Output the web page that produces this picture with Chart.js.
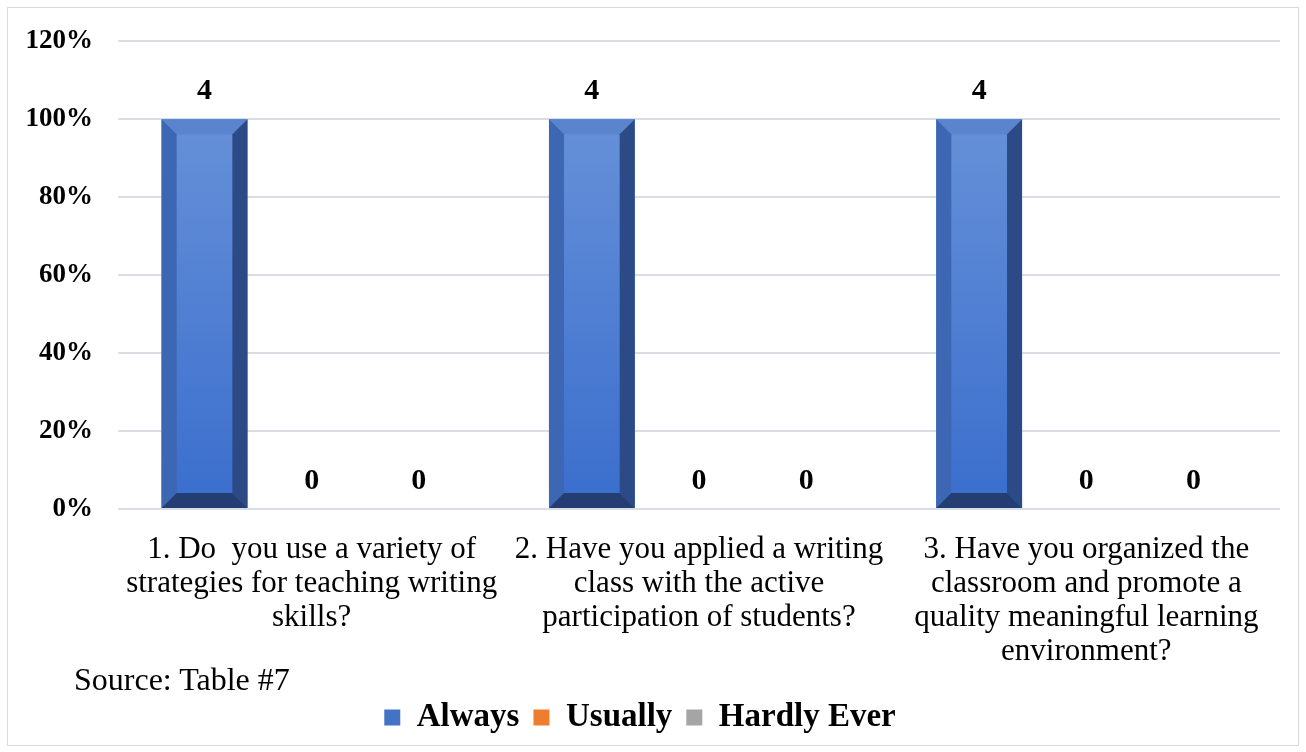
<!DOCTYPE html>
<html>
<head>
<meta charset="utf-8">
<script src="https://cdn.jsdelivr.net/npm/chart.js@4"></script>
<style>
  body { margin: 0; background: #fff; }
  #wrap { position: relative; width: 1306px; height: 752px; }
  #marco { position: absolute; left: 7px; top: 7px; width: 1290px; height: 737px; border: 1px solid #d9d9d9; }
  #fuente { position: absolute; left: 74px; top: 661px; font: 32px "Liberation Serif", serif; color: #000; }
</style>
</head>
<body>
<div id="wrap">
  <div id="marco"></div>
  <canvas id="myChart" width="1306" height="752"></canvas>
  <div id="fuente">Source: Table #7</div>
</div>
<script>
// categorias (una linea por elemento)
const preguntas = [
	["1. Do  you use a variety of", "strategies for teaching writing", "skills?"],
	["2. Have you applied a writing", "class with the active", "participation of students?"],
	["3. Have you organized the", "classroom and promote a", "quality meaningful learning", "environment?"]
];
const series = ["Always", "Usually", "Hardly Ever"];
// porcentajes
const always = [100, 100, 100];
const usually = [0, 0, 0];
const hardlyEver = [0, 0, 0];
// etiquetas (cantidad de respuestas)
const cantAlways = [4, 4, 4];
const cantUsually = [0, 0, 0];
const cantHardly = [0, 0, 0];
const yTicks = [0, 20, 40, 60, 80, 100, 120];

const fuenteSerif = "'Liberation Serif', 'Times New Roman', serif";

// dibuja el efecto biselado de las barras y las etiquetas de valores
const biselPlugin = {
	id: "bisel",
	afterDatasetsDraw(chart) {
		const ctx = chart.ctx;
		const meta = chart.getDatasetMeta(0);
		meta.data.forEach((bar) => {
			const x0 = bar.x - bar.width / 2, x1 = bar.x + bar.width / 2;
			const y0 = bar.y, y1 = bar.base;
			const b = 15;
			const grad = ctx.createLinearGradient(0, y0, 0, y1);
			grad.addColorStop(0, "#6690d8");
			grad.addColorStop(1, "#3a6ecd");
			ctx.save();
			ctx.fillStyle = grad;
			ctx.fillRect(x0, y0, x1 - x0, y1 - y0);
			// arriba
			ctx.fillStyle = "#5b84cf";
			ctx.beginPath();
			ctx.moveTo(x0, y0); ctx.lineTo(x1, y0); ctx.lineTo(x1 - b, y0 + b); ctx.lineTo(x0 + b, y0 + b); ctx.closePath(); ctx.fill();
			// izquierda
			ctx.fillStyle = "#3d66b3";
			ctx.beginPath();
			ctx.moveTo(x0, y0); ctx.lineTo(x0 + b, y0 + b); ctx.lineTo(x0 + b, y1 - b); ctx.lineTo(x0, y1); ctx.closePath(); ctx.fill();
			// derecha
			ctx.fillStyle = "#2c4a86";
			ctx.beginPath();
			ctx.moveTo(x1, y0); ctx.lineTo(x1, y1); ctx.lineTo(x1 - b, y1 - b); ctx.lineTo(x1 - b, y0 + b); ctx.closePath(); ctx.fill();
			// abajo
			ctx.fillStyle = "#243d72";
			ctx.beginPath();
			ctx.moveTo(x0, y1); ctx.lineTo(x1, y1); ctx.lineTo(x1 - b, y1 - b); ctx.lineTo(x0 + b, y1 - b); ctx.closePath(); ctx.fill();
			ctx.restore();
		});

		const cantidades = [cantAlways, cantUsually, cantHardly];
		ctx.save();
		ctx.font = "bold 30px " + fuenteSerif;
		ctx.fillStyle = "#000";
		ctx.textAlign = "center";
		ctx.textBaseline = "middle";
		chart.data.datasets.forEach((ds, i) => {
			chart.getDatasetMeta(i).data.forEach((bar, j) => {
				ctx.fillText(String(cantidades[i][j]), bar.x, bar.y - 28);
			});
		});
		ctx.restore();
	}
};

const chartData = {
	labels: preguntas,
	datasets: [
		{ label: series[0], data: always, backgroundColor: "#4472c4", borderWidth: 0 },
		{ label: series[1], data: usually, backgroundColor: "#ed7d31", borderWidth: 0 },
		{ label: series[2], data: hardlyEver, backgroundColor: "#a5a5a5", borderWidth: 0 },
	],
};

const config = {
	type: "bar",
	data: chartData,
	plugins: [biselPlugin],
	options: {
		responsive: false,
		animation: false,
		layout: { padding: { left: 0, right: 26, top: 25, bottom: 8 } },
		datasets: { bar: { categoryPercentage: 0.83, barPercentage: 0.8 } },
		scales: {
			x: {
				grid: { display: false },
				border: { display: false },
				ticks: {
					color: "#000",
					font: { family: fuenteSerif, size: 31, lineHeight: 1.1 },
					padding: 16,
					maxRotation: 0,
					autoSkip: false,
				},
				afterFit(scale) { scale.height = 178; },
			},
			y: {
				min: 0,
				max: 120,
				afterBuildTicks(scale) { scale.ticks = yTicks.map((v) => ({ value: v })); },
				grid: { color: "#d9dee6", lineWidth: 2, drawTicks: false },
				border: { display: false },
				ticks: {
					color: "#000",
					font: { family: fuenteSerif, size: 27, weight: "bold" },
					padding: 25,
					callback: (v) => v + "%",
				},
				afterFit(scale) { scale.width = 118; },
			},
		},
		plugins: {
			tooltip: { enabled: false },
			legend: {
				position: "bottom",
				labels: {
					color: "#000",
					font: { family: fuenteSerif, size: 33, weight: "bold" },
					boxWidth: 16,
					boxHeight: 16,
					padding: 14,
				},
			},
		},
	},
};

const myChart = document.getElementById("myChart");
window.grafico = new Chart(myChart, config);
</script>
</body>
</html>
